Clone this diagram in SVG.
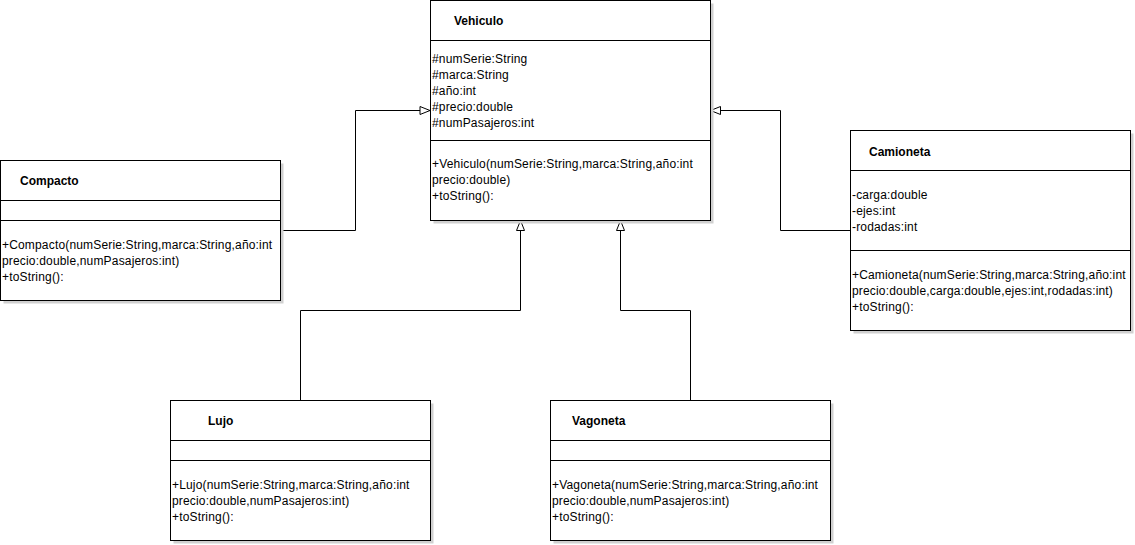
<svg xmlns="http://www.w3.org/2000/svg" width="1135" height="545" viewBox="0 0 1135 545">
<defs>
<marker id="tri" viewBox="0 0 12 10" refX="11" refY="5" markerWidth="12" markerHeight="10" markerUnits="userSpaceOnUse" orient="auto">
<path d="M1,1 L11,5 L1,9 Z" fill="#ffffff" stroke="#000000" stroke-width="1"/>
</marker>
</defs>
<style>
.box{fill:#ffffff;stroke:#000000;stroke-width:1}
.sh{fill:#d0d0d0;stroke:none}
.ln{stroke:#000000;stroke-width:1;fill:none}
text{font-family:"Liberation Sans",Arial,sans-serif;font-size:12px;fill:#000000;letter-spacing:0.17px}
.t{font-weight:bold;letter-spacing:0}
.c{stroke:#000000;stroke-width:1;fill:none}
</style>
<rect width="1135" height="545" fill="#ffffff"/>
<g id="connectors">
<path class="c" d="M280.5,230.5 H355.5 V110.5 H430" marker-end="url(#tri)"/>
<path class="c" d="M850.5,230.5 H780.5 V110.5 H710.5" marker-end="url(#tri)"/>
<path class="c" d="M300.5,400.5 V310.5 H520.5 V220.5" marker-end="url(#tri)"/>
<path class="c" d="M690.5,400.5 V310.5 H620.5 V220.5" marker-end="url(#tri)"/>
</g>
<g id="Vehiculo">
<rect class="sh" x="433.5" y="3.5" width="280" height="220"/>
<rect class="box" x="430.5" y="0.5" width="280" height="220"/>
<line class="ln" x1="430.5" y1="40.5" x2="710.5" y2="40.5"/>
<line class="ln" x1="430.5" y1="140.5" x2="710.5" y2="140.5"/>
<text class="t" x="454" y="25">Vehiculo</text>
<text x="432" y="63">#numSerie:String</text>
<text x="432" y="79">#marca:String</text>
<text x="432" y="95">#año:int</text>
<text x="432" y="111">#precio:double</text>
<text x="432" y="127">#numPasajeros:int</text>
<text x="432" y="168">+Vehiculo(numSerie:String,marca:String,año:int</text>
<text x="432" y="184">precio:double)</text>
<text x="432" y="200">+toString():</text>
</g>
<g id="Compacto">
<rect class="sh" x="3.5" y="163.5" width="280" height="140"/>
<rect class="box" x="0.5" y="160.5" width="280" height="140"/>
<line class="ln" x1="0.5" y1="200.5" x2="280.5" y2="200.5"/>
<line class="ln" x1="0.5" y1="220.5" x2="280.5" y2="220.5"/>
<text class="t" x="20" y="185">Compacto</text>
<text x="2" y="249">+Compacto(numSerie:String,marca:String,año:int</text>
<text x="2" y="265">precio:double,numPasajeros:int)</text>
<text x="2" y="281">+toString():</text>
</g>
<g id="Camioneta">
<rect class="sh" x="853.5" y="133.5" width="280" height="200"/>
<rect class="box" x="850.5" y="130.5" width="280" height="200"/>
<line class="ln" x1="850.5" y1="170.5" x2="1130.5" y2="170.5"/>
<line class="ln" x1="850.5" y1="250.5" x2="1130.5" y2="250.5"/>
<text class="t" x="869" y="156">Camioneta</text>
<text x="852" y="199">-carga:double</text>
<text x="852" y="215">-ejes:int</text>
<text x="852" y="231">-rodadas:int</text>
<text x="852" y="279">+Camioneta(numSerie:String,marca:String,año:int</text>
<text x="852" y="295">precio:double,carga:double,ejes:int,rodadas:int)</text>
<text x="852" y="311">+toString():</text>
</g>
<g id="Lujo">
<rect class="sh" x="173.5" y="403.5" width="260" height="140"/>
<rect class="box" x="170.5" y="400.5" width="260" height="140"/>
<line class="ln" x1="170.5" y1="440.5" x2="430.5" y2="440.5"/>
<line class="ln" x1="170.5" y1="460.5" x2="430.5" y2="460.5"/>
<text class="t" x="208" y="425">Lujo</text>
<text x="172" y="489">+Lujo(numSerie:String,marca:String,año:int</text>
<text x="172" y="505">precio:double,numPasajeros:int)</text>
<text x="172" y="521">+toString():</text>
</g>
<g id="Vagoneta">
<rect class="sh" x="553.5" y="403.5" width="280" height="140"/>
<rect class="box" x="550.5" y="400.5" width="280" height="140"/>
<line class="ln" x1="550.5" y1="440.5" x2="830.5" y2="440.5"/>
<line class="ln" x1="550.5" y1="460.5" x2="830.5" y2="460.5"/>
<text class="t" x="572" y="425">Vagoneta</text>
<text x="552" y="489">+Vagoneta(numSerie:String,marca:String,año:int</text>
<text x="552" y="505">precio:double,numPasajeros:int)</text>
<text x="552" y="521">+toString():</text>
</g>
</svg>
